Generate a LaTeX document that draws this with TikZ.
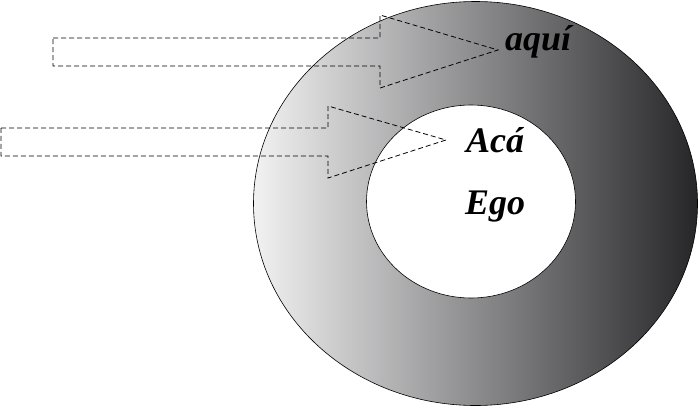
\documentclass[tikz,border=0pt]{standalone}
\usepackage{fontspec}
\setmainfont{Liberation Serif}
\usetikzlibrary{positioning}
\definecolor{rlight}{HTML}{F2F2F3}
\definecolor{rdark}{HTML}{262628}

\begin{document}
\begin{tikzpicture}[x=1pt, y=-1pt,
    every node/.style={font=\fontsize{36}{36}\selectfont\bfseries\itshape, inner sep=0pt},
    ring/.style={draw=black, line width=0.6pt},
    outline/.style={draw=black, line width=0.8pt, dash pattern=on 5pt off 3pt}]
  \useasboundingbox (0,0) rectangle (700,407);
  % shaded ring with white hole
  \path[ring, left color=rlight, right color=rdark] (475.5,203.5) ellipse [x radius=222, y radius=202];
  \path[ring, fill=white] (471,201.5) ellipse [x radius=104.5, y radius=96.5];
  % labels
  \node[anchor=base west] (aqui) at (505,50) {aquí};
  \node[anchor=base west] (aca) at (466,152) {Acá};
  \node[anchor=base west] (ego) at (465,214) {Ego};
  % dashed arrow outlines
  \coordinate (aquitip) at (498,50);
  \coordinate (acatip) at (446,140);
  \draw[outline] (53,38) -- (380,38) -- (380,15) -- (aquitip) -- (380,88) -- (380,66) -- (53,66) -- cycle;
  \draw[outline] (1,128) -- (328,128) -- (328,106) -- (acatip) -- (328,178) -- (328,156) -- (1,156) -- cycle;
\end{tikzpicture}
\end{document}
